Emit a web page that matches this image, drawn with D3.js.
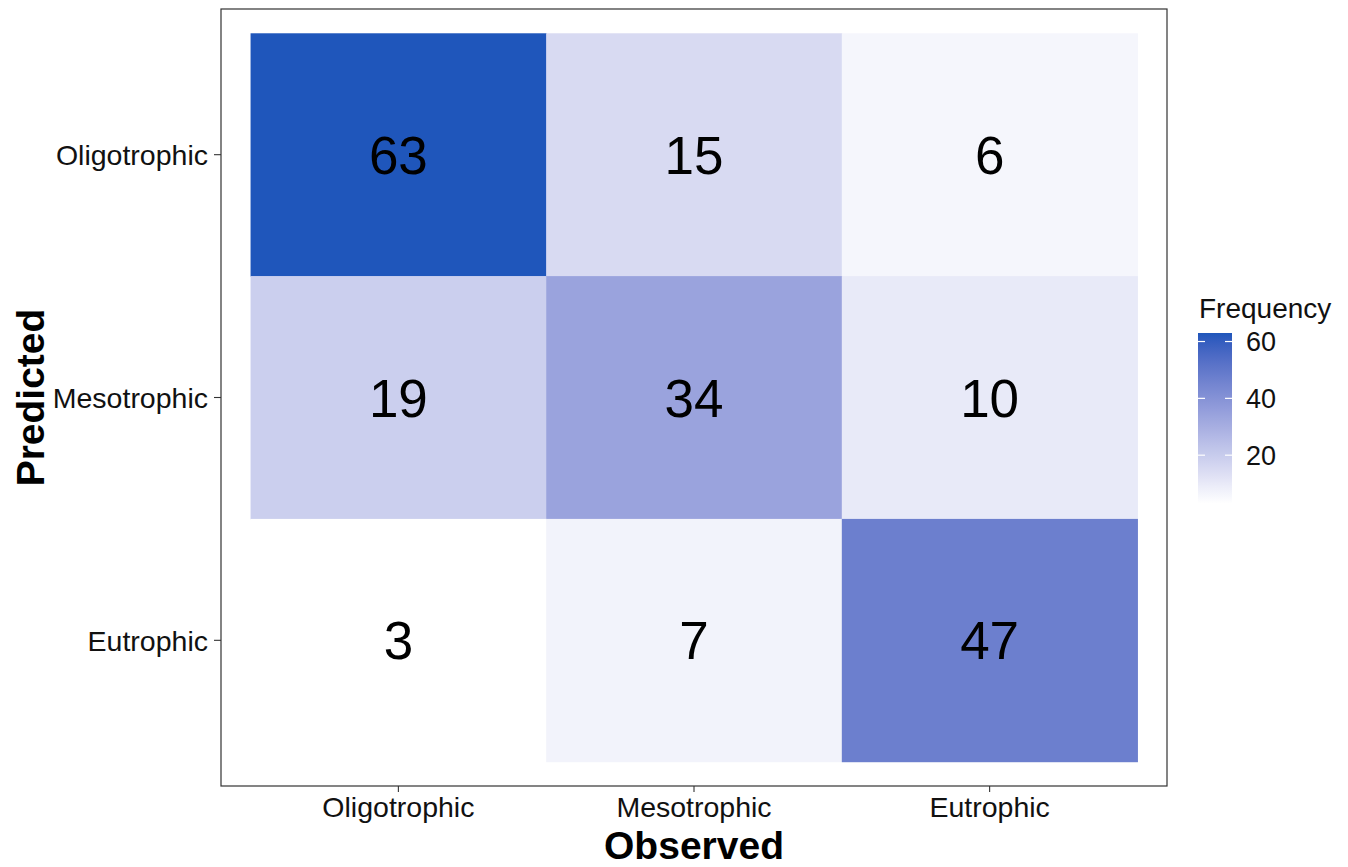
<!DOCTYPE html>
<html>
<head>
<meta charset="utf-8">
<script src="https://cdn.jsdelivr.net/npm/d3@7"></script>
<style>
  html, body { margin: 0; padding: 0; background: #fff; }
  svg { display: block; font-family: "Liberation Sans", Arial, sans-serif; }
</style>
</head>
<body>
<svg id="chart" width="1348" height="867"></svg>
<script>
// Confusion matrix of trophic state classes
const observedLevels = ["Oligotrophic", "Mesotrophic", "Eutrophic"];
const predictedLevels = ["Oligotrophic", "Mesotrophic", "Eutrophic"];
// Counts per predicted class, ordered by observed class
const predictedOligotrophic = [63, 15, 6];
const predictedMesotrophic = [19, 34, 10];
const predictedEutrophic = [3, 7, 47];
const legendTicks = [20, 40, 60];

const rows = [predictedOligotrophic, predictedMesotrophic, predictedEutrophic];
const cells = [];
predictedLevels.forEach((p, i) => {
  observedLevels.forEach((o, j) => {
    cells.push({ predicted: p, observed: o, n: rows[i][j] });
  });
});

const svg = d3.select("#chart");
const panel = { left: 221, right: 1167, top: 9, bottom: 786 };

const x = d3.scaleBand()
  .domain(observedLevels)
  .range([panel.left, panel.right])
  .paddingInner(0).paddingOuter(0.1);

const y = d3.scaleBand()
  .domain(predictedLevels)
  .range([panel.top, panel.bottom])
  .paddingInner(0).paddingOuter(0.1);

const extent = d3.extent(cells, d => d.n);
const color = d3.scaleLinear()
  .domain(extent)
  .range(["#ffffff", "#1f56bb"])
  .interpolate(d3.interpolateLab);

// tiles
svg.append("g").selectAll("rect")
  .data(cells)
  .join("rect")
  .attr("x", d => x(d.observed))
  .attr("y", d => y(d.predicted))
  .attr("width", x.bandwidth() + 0.5)
  .attr("height", y.bandwidth() + 0.5)
  .attr("fill", d => color(d.n));

// counts
svg.append("g").selectAll("text")
  .data(cells)
  .join("text")
  .attr("x", d => x(d.observed) + x.bandwidth() / 2)
  .attr("y", d => y(d.predicted) + y.bandwidth() / 2)
  .attr("text-anchor", "middle")
  .attr("dy", "0.36em")
  .attr("font-size", 53)
  .attr("fill", "#000")
  .text(d => d.n);

// panel border
svg.append("rect")
  .attr("x", panel.left).attr("y", panel.top)
  .attr("width", panel.right - panel.left)
  .attr("height", panel.bottom - panel.top)
  .attr("fill", "none")
  .attr("stroke", "#333")
  .attr("stroke-width", 1.2);

// axes
const xAxis = svg.append("g")
  .attr("transform", `translate(0,${panel.bottom})`)
  .call(d3.axisBottom(x).tickSize(6).tickPadding(5));
const yAxis = svg.append("g")
  .attr("transform", `translate(${panel.left},0)`)
  .call(d3.axisLeft(y).tickSize(7).tickPadding(6));
[xAxis, yAxis].forEach(g => {
  g.select(".domain").remove();
  g.selectAll(".tick line").attr("stroke", "#333").attr("stroke-width", 1.1);
  g.selectAll(".tick text")
    .attr("font-size", 28.5)
    .attr("fill", "#111")
    .attr("font-family", "'Liberation Sans', Arial, sans-serif");
});
yAxis.selectAll(".tick text").attr("dy", "0.36em");

// axis titles
svg.append("text")
  .attr("x", (panel.left + panel.right) / 2)
  .attr("y", 859)
  .attr("text-anchor", "middle")
  .attr("font-size", 39)
  .attr("font-weight", "bold")
  .text("Observed");

svg.append("text")
  .attr("transform", `translate(44,${(panel.top + panel.bottom) / 2}) rotate(-90)`)
  .attr("text-anchor", "middle")
  .attr("font-size", 39)
  .attr("font-weight", "bold")
  .text("Predicted");

// colour bar legend
const bar = { x: 1198, w: 34, top: 333, bottom: 503.5 };
const ly = d3.scaleLinear().domain(extent).range([bar.bottom, bar.top]);

const grad = svg.append("defs").append("linearGradient")
  .attr("id", "freqGrad")
  .attr("x1", 0).attr("y1", 1).attr("x2", 0).attr("y2", 0);
d3.range(0, 1.0001, 0.05).forEach(t => {
  grad.append("stop")
    .attr("offset", t)
    .attr("stop-color", color(extent[0] + t * (extent[1] - extent[0])));
});

const legend = svg.append("g");
legend.append("text")
  .attr("x", bar.x + 1)
  .attr("y", 318)
  .attr("font-size", 28)
  .attr("fill", "#111")
  .text("Frequency");

legend.append("rect")
  .attr("x", bar.x).attr("y", bar.top)
  .attr("width", bar.w).attr("height", bar.bottom - bar.top)
  .attr("fill", "url(#freqGrad)");

legendTicks.forEach(v => {
  const yy = ly(v);
  legend.append("line")
    .attr("x1", bar.x).attr("x2", bar.x + 7)
    .attr("y1", yy).attr("y2", yy)
    .attr("stroke", "#fff").attr("stroke-width", 1.2);
  legend.append("line")
    .attr("x1", bar.x + bar.w - 7).attr("x2", bar.x + bar.w)
    .attr("y1", yy).attr("y2", yy)
    .attr("stroke", "#fff").attr("stroke-width", 1.2);
  legend.append("text")
    .attr("x", bar.x + bar.w + 14)
    .attr("y", yy)
    .attr("dy", "0.36em")
    .attr("font-size", 27)
    .attr("fill", "#111")
    .text(v);
});
</script>
</body>
</html>
